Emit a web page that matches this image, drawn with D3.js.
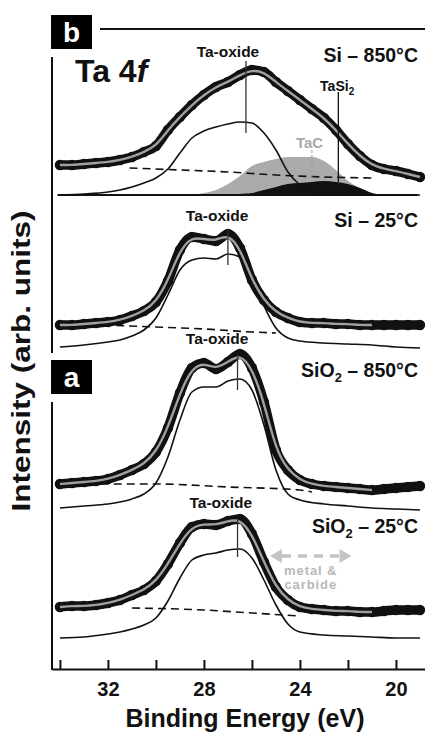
<!DOCTYPE html>
<html>
<head>
<meta charset="utf-8">
<script src="https://cdn.jsdelivr.net/npm/d3@7/dist/d3.min.js"></script>
<style>
  body { margin: 0; background: #fff; }
  text { font-family: "Liberation Sans", Arial, sans-serif; font-weight: bold; }
</style>
</head>
<body>
<div id="chart"></div>
<script>
// binding energy grid of the measured points (eV)
const energy = [34,33.5,33,32.5,32,31.5,31,30.5,30,29.5,29,28.5,28,27.5,27,26.5,26,25.5,25,24.5,24,23.5,23,22.5,22,21.5,21,20.5,20,19.5,19];

// measured Ta 4f intensity (arb. units), one value per energy point
const si850Counts   = [15,15,15.5,16,16.5,17.5,19,21.5,24.5,32.5,39,45,50,54,56.5,60,62.5,61.5,56.5,52,47.5,43,38.5,32.5,25.5,19.5,15,13,12,10.5,9];
const si25Counts    = [11,11,11.5,12,12.5,13.5,15.5,18,22.5,33,48.5,55,54,53,56.5,49.5,33.5,23.5,17.5,14.5,12.5,12,12,11.5,11.5,11,11,11,11,11,11];
const sio2850Counts = [12,12.5,13,13.5,14.5,16.5,19,22,28,40,57.5,70,72.5,69.5,73,77,70,53,29,19,14,12,11,10.5,10,9.5,9,9.5,10,10.5,11];
const sio225Counts  = [15.5,16,16,16.5,17.5,19,21.5,24,28.5,37,47.5,55.5,57,56.5,58.5,59.5,52,38,25.5,19,15.5,14.5,14,13.5,13.5,13,13,13.5,14,14,14];

// fitted Ta-oxide component [eV, intensity]
const si850Oxide   = [[34,0],[33,0.5],[32,1.5],[31.5,2.5],[31,4],[30.5,6],[30,8.5],[29.5,13],[29,21],[28.5,28.5],[28,32],[27.5,34],[27,35.5],[26.5,36.5],[26,36],[25.5,31],[25,22.5],[24.5,11.5],[24,5],[23.5,1],[23,0],[19,0]];
const si25Oxide    = [[34,0],[33,1],[32,2.5],[31.5,3.5],[31,5.5],[30.5,8.5],[30,14.5],[29.5,26],[29,38.5],[28.5,43.5],[28,44.5],[27.5,44],[27,46.5],[26.5,45],[26,33],[25.5,20.5],[25,9.5],[24.5,4.5],[24,3],[23,2],[22,1.5],[21,1],[20,0],[19,-0.5]];
const sio2850Oxide = [[34,0],[33,1],[32,2],[31.5,3],[31,4.5],[30.5,7],[30,12.5],[29.5,25.5],[29,44],[28.5,58],[28,60.5],[27.5,60.5],[27,63.5],[26.5,64.5],[26,59],[25.5,41.5],[25,19],[24.5,7],[24,4],[23,2],[22,1],[21,0],[20,-0.5],[19,-1]];
const sio225Oxide  = [[34,0],[33,0.5],[32,2],[31.5,3],[31,4.5],[30.5,6.5],[30,10],[29.5,18.5],[29,30],[28.5,39],[28,41.5],[27.5,42.5],[27,44],[26.5,44.5],[26,40],[25.5,29],[25,16.5],[24.5,7],[24,3],[23,1.5],[22,1],[21,0.5],[20,0],[19,0]];

// TaC and TaSi2 components (Si - 850°C only)
const si850TaC  = [[28.5,0],[28,1],[27.5,2.5],[27,5.5],[26.5,9.5],[26,14.5],[25.5,16.5],[25,18],[24.5,19],[24,19],[23.5,19],[23,17],[22.5,12.5],[22,7],[21.5,3.5],[21,1],[20.5,0]];
const si850TaSi2 = [[27,0],[26.5,0.5],[26,1],[25.5,2.5],[25,4],[24.5,5.5],[24,6],[23.5,6.5],[23,7],[22.5,6.5],[22,5.5],[21.5,3.5],[21,1],[20.5,0]];

// Shirley-type backgrounds [eV, intensity]
const si850Bg   = [[31.1,13.5],[29,12.5],[27,11.5],[25,10],[23,9],[20.9,8.5]];
const si25Bg    = [[32.2,11],[30,10],[28,9],[26,7.5],[25,7]];
const sio2850Bg = [[32.3,12],[30,12],[27,10.5],[24,9],[23.5,8]];
const sio225Bg  = [[31,15],[28,14],[26,12.5],[24,11]];

// vertical stacking offsets of the spectra
const panelOffsets = [237, 161, 80.5, 15.5];
const panelNames = ["Si – 850°C", "Si – 25°C", "SiO2 – 850°C", "SiO2 – 25°C"];
const xTicks = [34, 32, 30, 28, 26, 24, 22, 20];

const width = 425, height = 735;

const svg = d3.select("#chart").append("svg")
    .attr("width", width)
    .attr("height", height);

const x = d3.scaleLinear().domain([34.33, 18.79]).range([52, 425]);
const y = d3.scaleLinear().domain([0, 320]).range([669, 29]);

const panels = [
    { counts: si850Counts, oxide: si850Oxide, bg: si850Bg, fitEnd: 19, peak: 26.25, peakLine: [31, 67], label: [27, 69] },
    { counts: si25Counts, oxide: si25Oxide, bg: si25Bg, fitEnd: 21, peak: 27, peakLine: [41, 58.5], label: [27.45, 63] },
    { counts: sio2850Counts, oxide: sio2850Oxide, bg: sio2850Bg, fitEnd: 21, peak: 26.6, peakLine: [59, 76.5], label: [27.45, 82] },
    { counts: sio225Counts, oxide: sio225Oxide, bg: sio225Bg, fitEnd: 21, peak: 26.6, peakLine: [40.5, 59], label: [27.3, 65] }
];
// baseline (px) of the condition labels
const nameBaselines = [62, 227, 377, 533];

panels.forEach((p, i) => {
    const off = panelOffsets[i];
    const py = v => y(off + v);
    const g = svg.append("g");

    const line = d3.line().x(d => x(d[0])).y(d => py(d[1])).curve(d3.curveMonotoneX);
    const area = d3.area().x(d => x(d[0])).y0(py(0)).y1(d => py(d[1])).curve(d3.curveMonotoneX);

    if (i === 0) {
        // TaC (grey) and TaSi2 (black) components
        g.append("path").datum(si850TaC).attr("d", area).attr("fill", "#ababab");
        g.append("path").datum(si850TaSi2).attr("d", area).attr("fill", "#111");
        g.append("line")
            .attr("x1", x(34.1)).attr("x2", x(19.1))
            .attr("y1", py(0)).attr("y2", py(0))
            .attr("stroke", "#111").attr("stroke-width", 2);
    }

    // oxide component
    g.append("path").datum(p.oxide).attr("d", line)
        .attr("fill", "none").attr("stroke", "#111").attr("stroke-width", 1.6);

    // background
    g.append("path").datum(p.bg).attr("d", line)
        .attr("fill", "none").attr("stroke", "#111").attr("stroke-width", 1.6)
        .attr("stroke-dasharray", "8,5");

    // measured points
    const pts = energy.map((e, k) => [e, p.counts[k]]);
    g.append("path").datum(pts).attr("d", line)
        .attr("fill", "none").attr("stroke", "#111").attr("stroke-width", 9.5)
        .attr("stroke-linecap", "round").attr("stroke-linejoin", "round");
    g.selectAll("circle").data(pts).enter().append("circle")
        .attr("cx", d => x(d[0])).attr("cy", d => py(d[1])).attr("r", 5.2)
        .attr("fill", "#111");

    // fit envelope
    g.append("path").datum(pts.filter(d => d[0] >= p.fitEnd))
        .attr("d", line.curve(d3.curveBasis))
        .attr("fill", "none").attr("stroke", "#a0a0a0").attr("stroke-width", 2.4);

    // Ta-oxide marker
    g.append("line")
        .attr("x1", x(p.peak)).attr("x2", x(p.peak))
        .attr("y1", py(p.peakLine[0])).attr("y2", py(p.peakLine[1]))
        .attr("stroke", "#333").attr("stroke-width", 1.3);
    g.append("text")
        .attr("x", x(p.label[0])).attr("y", py(p.label[1]))
        .attr("text-anchor", "middle").attr("font-size", 15.5).attr("fill", "#111")
        .text("Ta-oxide");

    // condition label
    const name = panelNames[i];
    const t = g.append("text")
        .attr("x", 418).attr("y", nameBaselines[i])
        .attr("text-anchor", "end").attr("font-size", 19.5).attr("fill", "#111");
    if (name.startsWith("SiO2")) {
        t.append("tspan").text("SiO");
        t.append("tspan").attr("font-size", 13).attr("dy", 5).text("2");
        t.append("tspan").attr("dy", -5).text(name.slice(4));
    } else {
        t.text(name);
    }
});

// annotations of the Si - 850°C spectrum
const topY = d => y(panelOffsets[0] + d);
svg.append("line")
    .attr("x1", x(22.4)).attr("x2", x(22.4)).attr("y1", topY(51.5)).attr("y2", topY(6.5))
    .attr("stroke", "#111").attr("stroke-width", 1.3);
svg.append("line")
    .attr("x1", x(23.5)).attr("x2", x(23.5)).attr("y1", topY(22.5)).attr("y2", topY(9))
    .attr("stroke", "#999").attr("stroke-width", 1).attr("stroke-dasharray", "3,2");
const tasi = svg.append("text").attr("x", x(22.45)).attr("y", topY(52))
    .attr("text-anchor", "middle").attr("font-size", 14).attr("fill", "#111");
tasi.append("tspan").text("TaSi");
tasi.append("tspan").attr("font-size", 10).attr("dy", 4).text("2");
svg.append("text").attr("x", x(23.6)).attr("y", topY(23.5))
    .attr("text-anchor", "middle").attr("font-size", 15).attr("fill", "#a8a8a8")
    .text("TaC");

const ta4f = svg.append("text").attr("x", 75).attr("y", 82)
    .attr("font-size", 32).attr("fill", "#111");
ta4f.append("tspan").text("Ta 4");
ta4f.append("tspan").attr("font-style", "italic").text("f");

// metal & carbide arrow (SiO2 - 25°C)
const arr = svg.append("g");
const ay = y(panelOffsets[3] + 41);
arr.append("line")
    .attr("x1", x(24.75)).attr("x2", x(22.3)).attr("y1", ay).attr("y2", ay)
    .attr("stroke", "#c4c4c4").attr("stroke-width", 3.5).attr("stroke-dasharray", "9,7");
arr.append("path")
    .attr("d", `M${x(25.25)},${ay} l12,-7 l0,14 Z M${x(21.85)},${ay} l-12,-7 l0,14 Z`)
    .attr("fill", "#c4c4c4");
["metal &", "carbide"].forEach((s, k) => {
    svg.append("text").attr("x", x(23.55)).attr("y", y(panelOffsets[3] + 31.5) + k * 14)
        .attr("text-anchor", "middle").attr("font-size", 13).attr("letter-spacing", 0.9)
        .attr("fill", "#b8b8b8").text(s);
});

// frame: top rule, left axis
svg.append("line").attr("x1", 100).attr("x2", 425).attr("y1", 29).attr("y2", 29)
    .attr("stroke", "#111").attr("stroke-width", 2);
svg.append("line").attr("x1", 52).attr("x2", 52).attr("y1", 57).attr("y2", 353)
    .attr("stroke", "#111").attr("stroke-width", 2);
svg.append("line").attr("x1", 52).attr("x2", 52).attr("y1", 402).attr("y2", 670)
    .attr("stroke", "#111").attr("stroke-width", 2);

// panel tags
[["b", 15], ["a", 360]].forEach(([s, ty]) => {
    svg.append("rect").attr("x", 51).attr("y", ty).attr("width", 41).attr("height", 34).attr("fill", "#000");
    svg.append("text").attr("x", 71.5).attr("y", ty + 27).attr("text-anchor", "middle")
        .attr("font-size", 28).attr("fill", "#fff").text(s);
});

// x axis
const xAxis = d3.axisBottom(x)
    .tickValues(xTicks)
    .tickSize(-9)
    .tickSizeOuter(0)
    .tickPadding(13)
    .tickFormat(d => d % 4 === 0 ? d : "");
const ax = svg.append("g").attr("transform", "translate(0,669)").call(xAxis);
ax.select(".domain").attr("stroke", "#111").attr("stroke-width", 2);
ax.selectAll(".tick line").attr("stroke", "#111").attr("stroke-width", 2);
ax.selectAll(".tick text").attr("font-size", 20).attr("fill", "#111")
    .attr("font-family", "Liberation Sans, Arial, sans-serif").attr("font-weight", "bold");

svg.append("text").attr("x", 245).attr("y", 727).attr("text-anchor", "middle")
    .attr("font-size", 25).attr("fill", "#111").text("Binding Energy (eV)");

svg.append("text")
    .attr("transform", "translate(30,361) rotate(-90) scale(1.26,1)")
    .attr("text-anchor", "middle").attr("font-size", 25).attr("fill", "#111")
    .text("Intensity (arb. units)");
</script>
</body>
</html>
